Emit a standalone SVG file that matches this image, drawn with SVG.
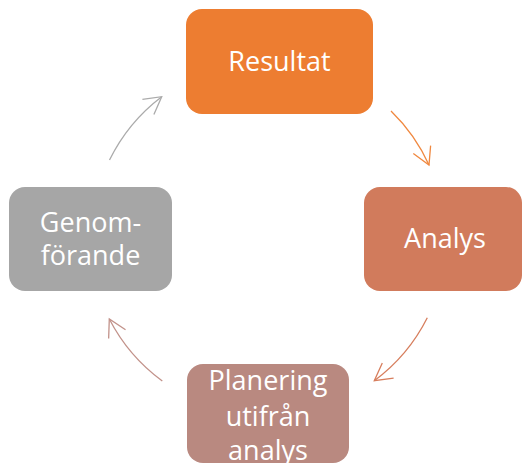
<svg xmlns="http://www.w3.org/2000/svg" width="522" height="468" viewBox="0 0 522 468">
<defs>
<style>
.box{stroke:none}
.lbl{font-family:"Open Sans","Noto Sans",sans-serif;font-size:27px;fill:#ffffff;text-anchor:middle}
.arc{fill:none;stroke-width:1.3}
</style>
<marker id="ah1" markerUnits="userSpaceOnUse" markerWidth="40" markerHeight="40" refX="0" refY="0" viewBox="-20 -20 40 40" orient="auto" overflow="visible"><path d="M-17,-9.5 L0,0 L-17,9.5" fill="none" stroke="#F0883F" stroke-width="1.3"/></marker>
<marker id="ah2" markerUnits="userSpaceOnUse" markerWidth="40" markerHeight="40" refX="0" refY="0" viewBox="-20 -20 40 40" orient="auto" overflow="visible"><path d="M-17,-9.5 L0,0 L-17,9.5" fill="none" stroke="#D77E5D" stroke-width="1.3"/></marker>
<marker id="ah3" markerUnits="userSpaceOnUse" markerWidth="40" markerHeight="40" refX="0" refY="0" viewBox="-20 -20 40 40" orient="auto" overflow="visible"><path d="M-17,-9.5 L0,0 L-17,9.5" fill="none" stroke="#C2928A" stroke-width="1.3"/></marker>
<marker id="ah4" markerUnits="userSpaceOnUse" markerWidth="40" markerHeight="40" refX="0" refY="0" viewBox="-20 -20 40 40" orient="auto" overflow="visible"><path d="M-17,-9.5 L0,0 L-17,9.5" fill="none" stroke="#ABABAB" stroke-width="1.3"/></marker>
</defs>
<rect width="522" height="468" fill="#ffffff"/>
<g id="connectors">
<path class="arc" d="M391,111 A178,178 0 0 1 429,165" stroke="#F0883F" marker-end="url(#ah1)"/>
<path class="arc" d="M427.3,317.7 A178,178 0 0 1 374.3,380.7" stroke="#D77E5D" marker-end="url(#ah2)"/>
<path class="arc" d="M162.3,381 A178,178 0 0 1 109.3,319" stroke="#C2928A" marker-end="url(#ah3)"/>
<path class="arc" d="M109.5,160 A178,178 0 0 1 161.7,96.7" stroke="#ABABAB" marker-end="url(#ah4)"/>
</g>
<g id="resultat">
<rect class="box" x="186" y="9" width="187" height="105" rx="16" fill="#ED7D31"/>
<text class="lbl" x="279.5" y="71">Resultat</text>
</g>
<g id="analys">
<rect class="box" x="364" y="187" width="158" height="104" rx="16" fill="#D17B5C"/>
<text class="lbl" x="445" y="247.5">Analys</text>
</g>
<g id="planering">
<rect class="box" x="187" y="364" width="162" height="99" rx="16" fill="#B98980"/>
<text class="lbl" x="268" y="389.5">Planering</text>
<text class="lbl" x="268" y="426">utifrån</text>
<text class="lbl" x="268" y="460">analys</text>
</g>
<g id="genomforande">
<rect class="box" x="9" y="187" width="163" height="104" rx="16" fill="#A6A6A6"/>
<text class="lbl" x="90.5" y="231.5">Genom-</text>
<text class="lbl" x="90.5" y="265">förande</text>
</g>
</svg>
